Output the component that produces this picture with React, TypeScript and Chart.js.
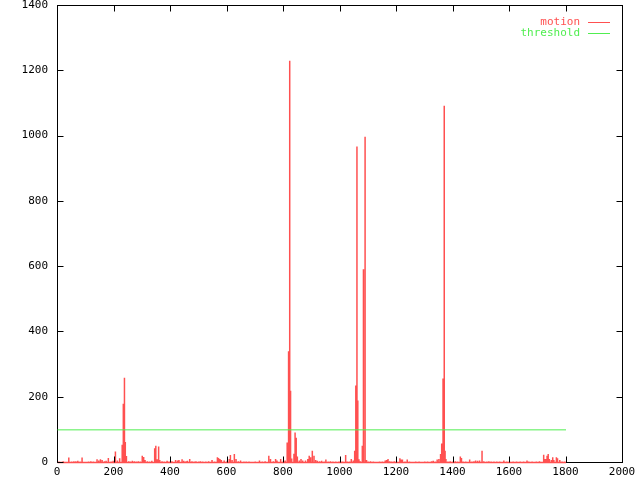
import React, { useEffect, useRef } from "react";
import { Chart, registerables } from "chart.js";

Chart.register(...registerables);

// motion values per frame (frames not listed are 0)
const motionFrames = [
  0, 5, 20, 40, 50, 58, 65, 72, 80, 87, 110, 118, 127, 140, 146, 152, 158, 166, 172, 180, 190, 197,
  205, 212, 220, 229, 233, 237, 240, 244, 252, 258, 265, 272, 279, 286, 293, 300, 305, 310, 318, 326, 334,
  344, 348, 353, 358, 362, 370, 378, 388, 395, 405, 418, 425, 430, 441,
  447, 455, 460, 468, 476, 484, 490, 500, 506, 514, 525, 535, 547, 556, 566, 570, 575, 580, 590, 601, 608, 612,
  618, 626, 632, 640, 648, 660, 668, 678, 690, 700, 715, 725, 735, 748, 754, 764, 772, 777, 790, 800, 806,
  813, 818, 822, 825, 829, 837, 841, 845, 849, 856, 862, 868, 878, 886, 891, 896, 902, 908, 914, 920, 928,
  935, 944, 950, 958, 966, 975, 985, 996, 1002, 1010, 1020, 1026, 1034, 1040, 1047, 1052, 1056, 1060, 1063,
  1067, 1072, 1079, 1083, 1087, 1090, 1094, 1100, 1108, 1118, 1130, 1140, 1150, 1160, 1165, 1170, 1176, 1183,
  1192, 1200, 1212, 1216, 1221, 1230, 1238, 1246, 1256, 1268, 1280, 1290, 1300, 1310, 1324, 1330, 1337, 1344,
  1350, 1356, 1360, 1363, 1366, 1369, 1372, 1375, 1382, 1390, 1400, 1408, 1416, 1426, 1430, 1436, 1445, 1459,
  1467, 1474, 1480, 1487, 1494, 1501, 1504, 1509, 1520, 1527, 1535, 1545, 1555, 1565, 1580, 1590, 1600, 1613,
  1625, 1638, 1650, 1662, 1668, 1680, 1695, 1706, 1721, 1725, 1729, 1733, 1737, 1741, 1748, 1753, 1757, 1766,
  1770, 1778, 1786, 1795, 1800,
];
const motionValues = [
  0, 3, 4, 15, 3, 4, 4, 5, 3, 15, 3, 4, 3, 10, 6, 10, 8, 4, 5, 14, 3, 5,
  34, 6, 13, 54, 180, 260, 63, 20, 4, 3, 5, 4, 3, 4, 3, 21, 17, 8, 4, 3, 5,
  44, 51, 10, 49, 8, 4, 3, 5, 3, 4, 8, 6, 8, 10,
  5, 4, 5, 11, 4, 3, 4, 3, 4, 3, 3, 4, 8, 3, 16, 14, 11, 8, 6, 5, 11, 23,
  8, 26, 11, 4, 6, 3, 3, 3, 2, 3, 6, 3, 4, 21, 11, 4, 11, 6, 11, 5, 6,
  61, 341, 1231, 220, 12, 27, 92, 76, 18, 6, 11, 6, 6, 11, 21, 16, 36, 21, 8, 5, 4,
  5, 3, 9, 3, 4, 3, 3, 3, 4, 3, 23, 3, 3, 11, 6, 36, 236, 968, 190,
  10, 4, 51, 592, 998, 307, 8, 3, 4, 3, 2, 3, 3, 6, 8, 11, 4, 3,
  4, 3, 13, 9, 9, 3, 9, 3, 2, 3, 3, 2, 3, 3, 4, 5, 3, 9,
  11, 26, 58, 113, 257, 1093, 36, 11, 3, 4, 3, 4, 3, 18, 14, 3, 3, 9,
  3, 4, 6, 5, 6, 36, 21, 4, 3, 4, 3, 3, 3, 3, 6, 3, 3, 3,
  3, 3, 3, 6, 3, 3, 3, 4, 24, 11, 11, 21, 26, 11, 8, 16, 8, 16,
  13, 8, 3, 3, 0,
];

const thresholdFrames = [0, 1800];
const thresholdValues = [100, 100];

const xMin = 0;
const xMax = 2000;
const xStep = 200;
const yMin = 0;
const yMax = 1400;
const yStep = 200;

const seriesLabels = ["motion", "threshold"];
const seriesColors = ["#ff5050", "#50ee50"];

const FONT = "'DejaVu Sans Mono', 'Liberation Mono', monospace";

const gnuplotPlugin = {
  id: "gnuplotFrame",
  beforeDatasetsDraw(chart: any) {
    const { ctx, chartArea } = chart;
    const { left, right, top, bottom } = chartArea;
    ctx.save();
    ctx.strokeStyle = "#000";
    ctx.lineWidth = 1;
    ctx.strokeRect(left + 0.5, top + 0.5, right - left, bottom - top);
    ctx.restore();
    ctx.save();
    ctx.translate(0.5, 0.5);
  },
  afterDatasetsDraw(chart: any) {
    const { ctx, chartArea, scales } = chart;
    ctx.restore();
    const { left, right, top, bottom } = chartArea;
    const len = 6;
    ctx.save();
    ctx.strokeStyle = "#000";
    ctx.lineWidth = 1;
    ctx.beginPath();
    scales.x.ticks.forEach((t: any) => {
      const px = Math.round(scales.x.getPixelForValue(t.value)) + 0.5;
      ctx.moveTo(px, bottom + 0.5);
      ctx.lineTo(px, bottom + 0.5 - len);
      ctx.moveTo(px, top + 0.5);
      ctx.lineTo(px, top + 0.5 + len);
    });
    scales.y.ticks.forEach((t: any) => {
      const py = Math.round(scales.y.getPixelForValue(t.value)) + 0.5;
      ctx.moveTo(left + 0.5, py);
      ctx.lineTo(left + 0.5 + len, py);
      ctx.moveTo(right + 0.5, py);
      ctx.lineTo(right + 0.5 - len, py);
    });
    ctx.stroke();

    // gnuplot-style key, top right
    ctx.font = `11px ${FONT}`;
    ctx.textAlign = "right";
    ctx.textBaseline = "middle";
    seriesLabels.forEach((label, i) => {
      const y = 22 + i * 11;
      ctx.fillStyle = seriesColors[i];
      ctx.fillText(label, 580, y);
      ctx.strokeStyle = seriesColors[i];
      ctx.beginPath();
      ctx.moveTo(588, Math.round(y) + 0.5);
      ctx.lineTo(610, Math.round(y) + 0.5);
      ctx.stroke();
    });
    ctx.restore();
  },
};

export default function App() {
  const canvasRef = useRef<HTMLCanvasElement | null>(null);

  useEffect(() => {
    const canvas = canvasRef.current;
    if (!canvas) return;

    const motionPoints: { x: number; y: number }[] = [];
    motionFrames.forEach((f, i) => {
      motionPoints.push({ x: f, y: 0 });
      motionPoints.push({ x: f, y: motionValues[i] });
      motionPoints.push({ x: f, y: 0 });
    });
    const thresholdPoints = thresholdFrames.map((f, i) => ({ x: f, y: thresholdValues[i] }));

    const chart = new Chart(canvas, {
      type: "scatter",
      data: {
        datasets: [
          {
            label: seriesLabels[1],
            data: thresholdPoints,
            showLine: true,
            borderColor: seriesColors[1],
            borderWidth: 1,
            pointRadius: 0,
            clip: 2,
          } as any,
          {
            label: seriesLabels[0],
            data: motionPoints,
            showLine: true,
            borderColor: seriesColors[0],
            borderWidth: 1.5,
            pointRadius: 0,
            tension: 0,
            clip: 2,
          } as any,
        ],
      },
      options: {
        responsive: false,
        animation: false,
        events: [],
        layout: { padding: { top: 5, right: 18, left: 0, bottom: 0 } },
        plugins: {
          legend: { display: false },
          tooltip: { enabled: false },
        },
        scales: {
          x: {
            type: "linear",
            min: xMin,
            max: xMax,
            grid: { display: false, drawTicks: false },
            border: { display: false },
            ticks: {
              stepSize: xStep,
              padding: 4,
              color: "#000",
              maxRotation: 0,
              autoSkip: false,
              font: { family: FONT, size: 11 },
              callback: (v: any) => String(v),
            },
            afterFit: (s: any) => {
              s.height = 18;
              s.paddingLeft = 0;
              s.paddingRight = 0;
            },
          },
          y: {
            type: "linear",
            min: yMin,
            max: yMax,
            grid: { display: false, drawTicks: false },
            border: { display: false },
            ticks: {
              stepSize: yStep,
              padding: 9,
              color: "#000",
              autoSkip: false,
              font: { family: FONT, size: 11 },
              callback: (v: any) => String(v),
            },
            afterFit: (s: any) => {
              s.width = 57;
              s.paddingTop = 0;
              s.paddingBottom = 0;
            },
          },
        },
      },
      plugins: [gnuplotPlugin],
    });

    return () => chart.destroy();
  }, []);

  return (
    <div style={{ position: "fixed", left: 0, top: 0, width: 640, height: 480, background: "#fff" }}>
      <canvas ref={canvasRef} width={640} height={480} style={{ display: "block" }} />
    </div>
  );
}
